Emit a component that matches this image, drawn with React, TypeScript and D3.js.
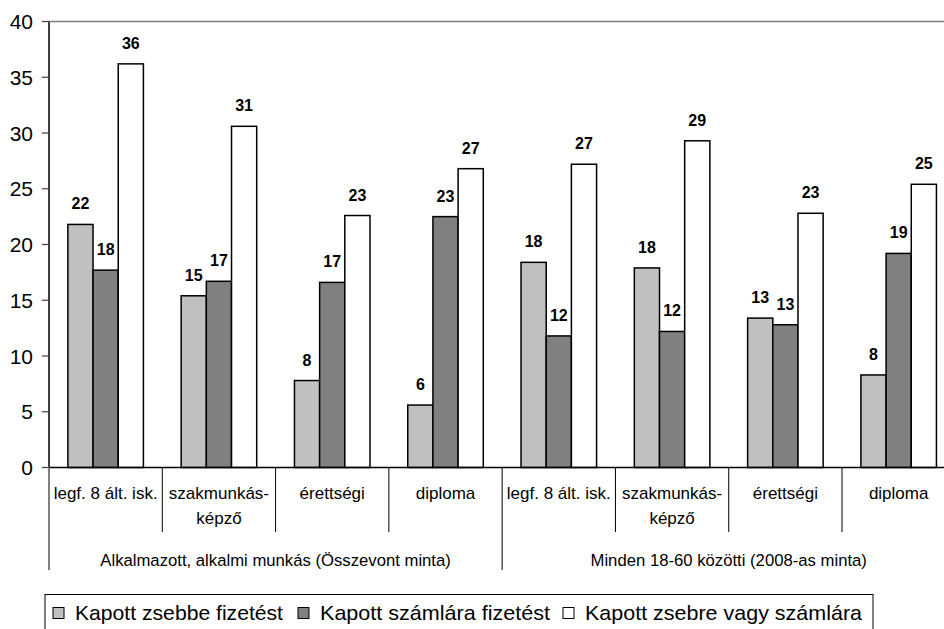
import React from "react";
import * as d3 from "d3";

const groupLabels = [
  "Alkalmazott, alkalmi munkás (Összevont minta)",
  "Minden 18-60 közötti (2008-as minta)",
];
const educationLabels = [
  ["legf. 8 ált. isk."],
  ["szakmunkás-", "képző"],
  ["érettségi"],
  ["diploma"],
];
const seriesNames = [
  "Kapott zsebbe fizetést",
  "Kapott számlára fizetést",
  "Kapott zsebre vagy számlára",
];
const zsebbe = [21.8, 15.4, 7.8, 5.6, 18.4, 17.9, 13.4, 8.3];
const szamlara = [17.7, 16.7, 16.6, 22.5, 11.8, 12.2, 12.8, 19.2];
const zsebreVagy = [36.2, 30.6, 22.6, 26.8, 27.2, 29.3, 22.8, 25.4];
const yTicks = [0, 5, 10, 15, 20, 25, 30, 35, 40];

const seriesValues = [zsebbe, szamlara, zsebreVagy];
const seriesColors = ["#C0C0C0", "#808080", "#FFFFFF"];

const W = 944;
const H = 629;
const left = 49;
const top = 21.5;
const bottom = 467.5;
const catStep = 113.29;
const nCats = groupLabels.length * educationLabels.length;
const right = left + catStep * nCats;

const categories = d3.range(nCats).map((i) => `c${i}`);

export default function App() {
  const x = d3.scaleBand<string>().domain(categories).range([left, right]).paddingInner(0).paddingOuter(0);
  const y = d3.scaleLinear().domain([0, 40]).range([bottom, top]);
  const step = x.bandwidth();
  const barW = step / 4.5; // gap width 150%
  const inner = d3
    .scaleBand<number>()
    .domain([0, 1, 2])
    .range([barW * 0.75, step - barW * 0.75])
    .padding(0);

  const font = "'Liberation Sans', Arial, sans-serif";
  const legendItems = [
    { mx: 53, tx: 75, tw: 208 },
    { mx: 298, tx: 320, tw: 230 },
    { mx: 563, tx: 585, tw: 277 },
  ];

  return (
    <svg
      width={W}
      height={H}
      style={{ position: "absolute", left: 0, top: 0, background: "#fff" }}
      fontFamily={font}
    >
      <rect x={0} y={0} width={W} height={H} fill="#fff" />
      {/* plot area top border */}
      <line x1={left} x2={right} y1={y(40)} y2={y(40)} stroke="#808080" strokeWidth={1.5} />
      {/* y axis */}
      <line x1={left} x2={left} y1={y(40)} y2={bottom} stroke="#404040" strokeWidth={2} />
      {yTicks.map((t) => (
        <g key={t}>
          <line x1={left - 7} x2={left} y1={y(t)} y2={y(t)} stroke="#404040" strokeWidth={1.2} />
          <text x={33} y={y(t)} dy="0.36em" textAnchor="end" fontSize={21} fill="#000">
            {t}
          </text>
        </g>
      ))}
      {/* bars */}
      {categories.map((c, ci) => (
        <g key={c}>
          {seriesValues.map((vals, si) => {
            const bx = (x(c) as number) + (inner(si) as number);
            const v = vals[ci];
            return (
              <g key={si}>
                <rect
                  x={bx}
                  y={y(v)}
                  width={inner.bandwidth()}
                  height={bottom - y(v)}
                  fill={seriesColors[si]}
                  stroke="#000"
                  strokeWidth={1.5}
                />
                <text
                  x={bx + inner.bandwidth() / 2}
                  y={y(v) - 15}
                  textAnchor="middle"
                  fontSize={16}
                  fontWeight="bold"
                  fill="#000"
                >
                  {Math.round(v)}
                </text>
              </g>
            );
          })}
        </g>
      ))}
      {/* x axis */}
      <line x1={left} x2={right} y1={bottom} y2={bottom} stroke="#000" strokeWidth={1.5} />
      {d3.range(nCats + 1).map((i) => {
        const bx = left + i * step;
        const isGroup = i % educationLabels.length === 0;
        return (
          <line
            key={i}
            x1={bx}
            x2={bx}
            y1={bottom}
            y2={isGroup ? 570 : 532}
            stroke={i === 0 ? "#808080" : "#000"}
            strokeWidth={i === 0 ? 2 : 1}
          />
        );
      })}
      {categories.map((c, ci) => {
        const lines = educationLabels[ci % educationLabels.length];
        const cx = (x(c) as number) + step / 2;
        return (
          <text key={c} x={cx} y={499} textAnchor="middle" fontSize={17} fill="#000">
            {lines.map((l, li) => (
              <tspan key={li} x={cx} dy={li === 0 ? 0 : 25}>
                {l}
              </tspan>
            ))}
          </text>
        );
      })}
      {groupLabels.map((g, gi) => {
        const gx0 = left + gi * educationLabels.length * step;
        const gx1 = gx0 + educationLabels.length * step;
        return (
          <text key={g} x={(gx0 + gx1) / 2} y={566} textAnchor="middle" fontSize={16.7} fill="#000">
            {g}
          </text>
        );
      })}
      {/* legend */}
      <rect x={45} y={594.5} width={828} height={60} fill="#fff" stroke="#000" strokeWidth={1} />
      {seriesNames.map((n, i) => {
        const it = legendItems[i];
        return (
          <g key={n}>
            <rect x={it.mx} y={607.5} width={11} height={11} fill={seriesColors[i]} stroke="#000" strokeWidth={1} />
            <text
              x={it.tx}
              y={620}
              fontSize={21}
              fill="#000"
              textLength={it.tw}
              lengthAdjust="spacingAndGlyphs"
            >
              {n}
            </text>
          </g>
        );
      })}
    </svg>
  );
}
